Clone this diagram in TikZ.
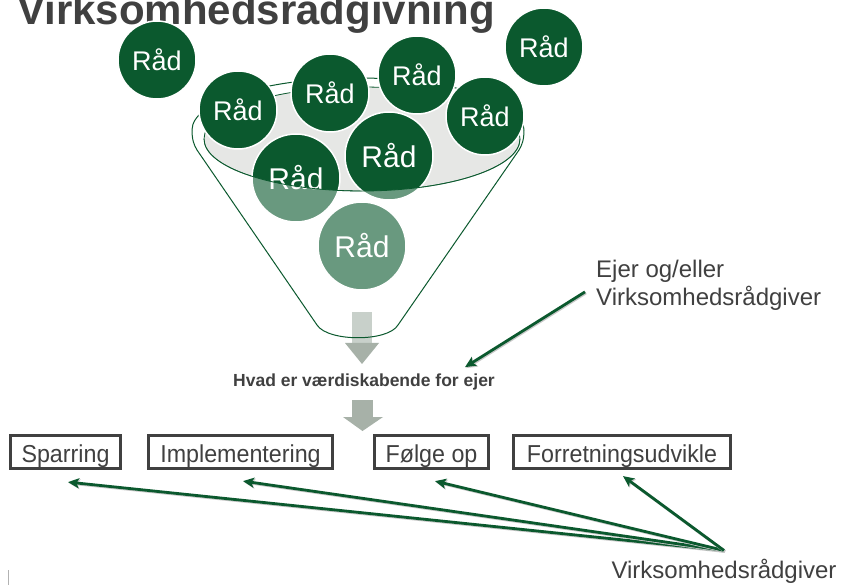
\documentclass[tikz,border=0pt]{standalone}
\usepackage{fontspec}
\setmainfont{Liberation Sans}
\newfontfamily\boxfont[FakeStretch=0.95]{Liberation Sans}
\usetikzlibrary{arrows.meta,calc}
\definecolor{raad}{HTML}{0B592E}
\definecolor{rim}{HTML}{E6E7E5}
\definecolor{ink}{HTML}{404040}
\definecolor{shaft}{HTML}{C8D0CA}
\definecolor{head}{HTML}{A7B1A8}

\begin{document}
\begin{tikzpicture}[x=1pt,y=-1pt,
  raadsmall/.style={circle, fill=raad, draw=white, line width=1.5pt, minimum size=78pt,
    inner sep=0pt, text=white, font=\fontsize{27}{31}\selectfont},
  raadlarge/.style={raadsmall, minimum size=88pt, font=\fontsize{30}{34}\selectfont},
  taskbox/.style={draw=ink, line width=3.2pt, minimum height=33pt, inner sep=0pt,
    text height=23pt, text depth=3pt,
    text=ink, font=\boxfont\fontsize{24.5}{28}\selectfont},
  plaintext/.style={text=ink, inner sep=0pt, font=\fontsize{24}{28}\selectfont},
  funnelline/.style={draw=raad, line width=1pt},
  pointer/.style={draw=raad, line width=2.8pt,
    -{Stealth[length=11pt,width=10pt,inset=2.5pt]},
    preaction={draw=black!22, line width=2.8pt, transform canvas={shift={(1pt,-1pt)}}}}
]
\fill[white] (0,0) rectangle (841,585);
\useasboundingbox (0,0) rectangle (841,585);

% heading
\node[anchor=base west, inner sep=0pt, text=ink,
  font=\bfseries\fontsize{42}{46}\selectfont] (title) at (17,25) {Virksomhedsrådgivning};

% upper rim of the funnel and its grey opening
\draw[funnelline] (192,130) arc[start angle=180, end angle=360, x radius=166, y radius=52];
\filldraw[fill=rim, draw=raad, line width=0.8pt] (362,139) ellipse[x radius=158, y radius=52];

% pieces of advice
\node[raadsmall] (c1) at (157,60) {Råd};
\node[raadsmall] (c2) at (544,47) {Råd};
\node[raadsmall] (c3) at (238,110) {Råd};
\node[raadsmall] (c4) at (330,93) {Råd};
\node[raadsmall] (c5) at (417,75) {Råd};
\node[raadsmall] (c6) at (485,116) {Råd};
\node[raadlarge] (c7) at (389,156) {Råd};
\node[raadlarge] (c8) at (296,178) {Råd};
\node[raadlarge] (c9) at (362,246) {Råd};

% translucent funnel body
\fill[white, fill opacity=0.39] (204,139) arc[start angle=180, end angle=0, x radius=158, y radius=52]
  -- (524,139) -- (519,150) -- (398,325) -- (317,325) -- (197,150) -- (192,139) -- cycle;
\draw[draw=raad, line width=0.8pt] (204,139) arc[start angle=180, end angle=0, x radius=158, y radius=52];

% outflow arrow
\fill[shaft] (352,312) rectangle (372,343);
\fill[head] (345,343) -- (379,343) -- (362,364) -- cycle;

% funnel sides and spout
\draw[funnelline] (192,130) .. controls (192,140) and (194,145) .. (197,150) -- (317,325)
  .. controls (328,342) and (388,342) .. (398,325) -- (519,150)
  .. controls (522,145) and (524,140) .. (524,130);

% result
\node[anchor=base, inner sep=0pt, text=ink,
  font=\bfseries\fontsize{17.5}{20}\selectfont] (hvad) at (364,387) {Hvad er værdiskabende for ejer};

\fill[head] (352,400) rectangle (373,417);
\fill[head] (343,417) -- (383,417) -- (362.5,431) -- cycle;

% activities
\node[taskbox, minimum width=110pt] (spar) at (65.5,452) {Sparring};
\node[taskbox, minimum width=184pt] (impl) at (240.5,452) {Implementering};
\node[taskbox, minimum width=114pt] (folg) at (431.5,452) {Følge op};
\node[taskbox, minimum width=217pt] (forr) at (622,452) {Forretningsudvikle};

% actors
\node[plaintext, anchor=west, align=left] (ejer) at (596,285) {Ejer og/eller\\Virksomhedsrådgiver};
\node[plaintext, anchor=base] (vr) at (724,578) {Virksomhedsrådgiver};
\coordinate (vrtop) at ([yshift=8pt]vr.north);

\draw[pointer, shorten <=13pt] (ejer.west) -- ([shift={(-30pt,7pt)}]hvad.north east);
\draw[pointer] (vrtop) -- ([shift={(2.5pt,-12pt)}]spar.south);
\draw[pointer] (vrtop) -- ([shift={(2.5pt,-11pt)}]impl.south);
\draw[pointer] (vrtop) -- ([shift={(3.5pt,-11pt)}]folg.south);
\draw[pointer] (vrtop) -- ([shift={(1pt,-6pt)}]forr.south);

% stray mark at the lower left
\draw[black!30, line width=1pt] (8,570) -- (8,585);
\end{tikzpicture}
\end{document}
